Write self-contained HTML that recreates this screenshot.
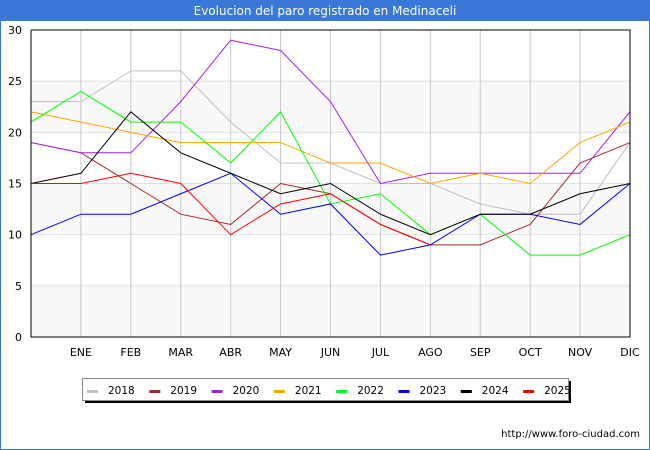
<!DOCTYPE html>
<html><head><meta charset="utf-8"><style>
body{margin:0;background:#fff}
svg{display:block;font-family:"DejaVu Sans","Liberation Sans",sans-serif}
</style></head><body>
<svg id="c" width="650" height="450">
<rect x="0.5" y="0.5" width="649" height="449" fill="#fff" stroke="#3a78d8"/>
<rect x="0" y="0" width="650" height="21" fill="#3a78d8"/>
<text x="325" y="15" fill="#fff" font-size="12" text-anchor="middle">Evolucion del paro registrado en Medinaceli</text>
<g id="grid"></g><g id="series"></g><g id="axes"></g><g id="legend"></g>
<text x="640" y="437" font-size="10" text-anchor="end" fill="#000">http://www.foro-ciudad.com</text>
</svg>
<script>
const months=["","ENE","FEB","MAR","ABR","MAY","JUN","JUL","AGO","SEP","OCT","NOV","DIC"];
const yTicks=[0,5,10,15,20,25,30];
const years=["2018","2019","2020","2021","2022","2023","2024","2025"];
const colors=["#c0c0c0","#a52a2a","#a020f0","#ffa500","#00ff00","#0000ff","#000000","#ff0000"];
const s2018=[23,23,26,26,21,17,17,15,15,13,12,12,19];
const s2019=[19,18,15,12,11,15,14,11,9,9,11,17,19];
const s2020=[19,18,18,23,29,28,23,15,16,16,16,16,22];
const s2021=[22,21,20,19,19,19,17,17,15,16,15,19,21];
const s2022=[21,24,21,21,17,22,13,14,10,12,8,8,10];
const s2023=[10,12,12,14,16,12,13,8,9,12,12,11,15];
const s2024=[15,16,22,18,16,14,15,12,10,12,12,14,15];
const s2025=[15,15,16,15,10,13,14,11,9];
const allSeries=[s2018,s2019,s2020,s2021,s2022,s2023,s2024,s2025];
const L=31,R=630,T=30,B=337,yMax=30;
const x=i=>L+i*(R-L)/12;
const y=v=>B-v*(B-T)/yMax;
const NS="http://www.w3.org/2000/svg";
function mk(tag,attrs,parent,text){const e=document.createElementNS(NS,tag);for(const k in attrs)e.setAttribute(k,attrs[k]);if(text!==undefined)e.textContent=text;parent.appendChild(e);return e;}
const grid=document.getElementById('grid');
for(let k=0;k<yTicks.length-1;k+=2){
 const r=mk('rect',{x:L,y:y(yTicks[k+1]),width:R-L,height:y(yTicks[k])-y(yTicks[k+1]),fill:'#f8f8f8'},grid);
 
 
}
yTicks.forEach(v=>{
 const l=mk('line',{x1:L,x2:R,y1:y(v),y2:y(v),stroke:'#e0e0e0'},grid);
 
 
 const t=mk('text',{x:L-9,y:y(v)+4,'font-size':11,'text-anchor':'end'},grid,String(v));
 
 
});
months.forEach((m,i)=>{
 if(i===0)return;
 const l=mk('line',{x1:x(i),x2:x(i),y1:T,y2:B,stroke:'#c8c8c8'},grid);
 
 
 const t=mk('text',{x:x(i),y:356,'font-size':11,'text-anchor':'middle'},grid,m);
 
 
});
const sg=document.getElementById('series');
allSeries.forEach((s,k)=>{
 const p=mk('polyline',{points:s.map((v,i)=>x(i)+','+y(v)).join(' '),fill:'none',stroke:colors[k],'stroke-width':1},sg);
 
 
});
const ax=document.getElementById('axes');
const a=mk('path',{d:`M${L},${T} V${B} H${R} V${T} H${L}`,fill:'none',stroke:'#000'},ax);


const lg=document.getElementById('legend');
const sh=mk('rect',{x:85,y:381,width:486,height:22,fill:'#000'},lg);


const bx=mk('rect',{x:82.5,y:378.5,width:486,height:22,fill:'#fff',stroke:'#888'},lg);


years.forEach((yr,k)=>{
 const ox=87+k*62.3;
 const g=mk('g',{},lg);
 
 
 mk('rect',{x:ox,y:390,width:11,height:3,fill:colors[k]},g);
 mk('text',{x:ox+21,y:394,'font-size':10.5},g,yr);
});
</script>
</body></html>
